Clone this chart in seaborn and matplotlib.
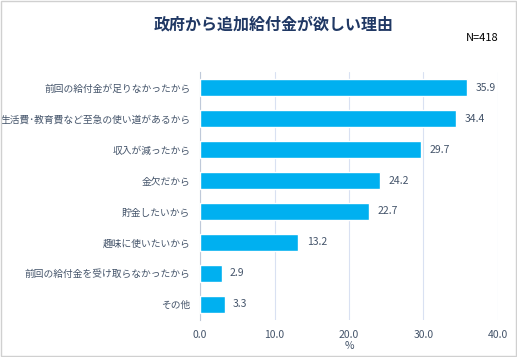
import matplotlib
matplotlib.use("Agg")
import matplotlib.pyplot as plt
import seaborn as sns
import pandas as pd
from matplotlib.patches import Rectangle

categories = ["前回の給付金が足りなかったから", "生活費･教育費など至急の使い道があるから", "収入が減ったから",
              "金欠だから", "貯金したいから", "趣味に使いたいから", "前回の給付金を受け取らなかったから", "その他"]
values = [35.9, 34.4, 29.7, 24.2, 22.7, 13.2, 2.9, 3.3]
xticks = [0, 10, 20, 30, 40]

sns.set_theme(style="white")
plt.rcParams['font.family'] = ['Noto Sans CJK JP', 'DejaVu Sans']

txt = "#44546A"
fig = plt.figure(figsize=(5.17, 3.57), dpi=100)
ax = fig.add_axes([0.387, 0.104, 0.576, 0.694])
df = pd.DataFrame({"cat": categories, "val": values})
sns.barplot(data=df, x="val", y="cat", color="#00B0F0", saturation=1, width=0.56, ax=ax, zorder=3)
ax.set_xlim(0, 40)
ax.set_xticks(xticks)
ax.set_xticklabels([f"{t:.1f}" for t in xticks], color=txt, fontsize=7.5)
ax.tick_params(axis='y', labelsize=7, labelcolor=txt, length=0, pad=7)
ax.tick_params(axis='x', length=0, pad=7)
ax.grid(axis='x', color="#D9E1F2", linewidth=0.8, zorder=0)
for s in ["top", "right", "bottom"]:
    ax.spines[s].set_visible(False)
ax.spines["left"].set_color("#BFC9D9")
ax.spines["left"].set_linewidth(0.8)
ax.set_ylabel("")
ax.set_xlabel("%", color=txt, fontsize=7.5, labelpad=1)
for c in ax.containers:
    ax.bar_label(c, labels=[f"{v:.1f}" for v in c.datavalues], padding=6, color=txt, fontsize=7.5)

fig.text(0.530, 0.930, "政府から追加給付金が欲しい理由", ha="center", va="center",
         fontsize=11.5, fontweight="bold", color="#203864")
fig.text(0.965, 0.894, "N=418", ha="right", va="center", fontsize=8, color="#000000")
fig.patches.append(Rectangle((0.001, 0.002), 0.997, 0.995, transform=fig.transFigure,
                             fill=False, edgecolor="#D0D0D0", linewidth=1))
fig.savefig("out.png", dpi=100)
